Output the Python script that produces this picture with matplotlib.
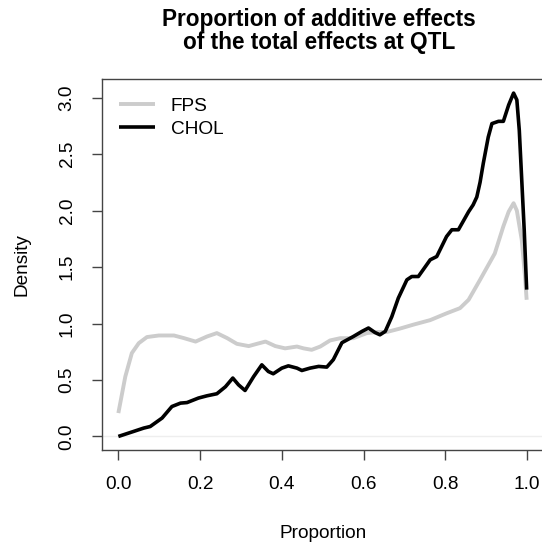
import numpy as np
import matplotlib
matplotlib.use("Agg")
import matplotlib.pyplot as plt

plt.rcParams['font.family'] = ['Liberation Sans', 'DejaVu Sans']

# density curves (x = proportion, y = density)
fps_x = [0.0, 0.017, 0.033, 0.05, 0.07, 0.099, 0.136, 0.16, 0.189, 0.217,
         0.241, 0.266, 0.29, 0.319, 0.339, 0.36, 0.384, 0.408, 0.437, 0.453,
         0.473, 0.494, 0.518, 0.543, 0.575, 0.608, 0.633, 0.657, 0.689, 0.722,
         0.763, 0.803, 0.836, 0.857, 0.885, 0.921, 0.942, 0.955, 0.967, 0.975,
         0.987, 0.995, 0.999]
fps_y = [0.207, 0.53, 0.738, 0.826, 0.88, 0.894, 0.894, 0.871, 0.84, 0.885,
         0.915, 0.871, 0.82, 0.80, 0.82, 0.84, 0.80, 0.78, 0.796, 0.78,
         0.767, 0.796, 0.85, 0.87, 0.87, 0.915, 0.925, 0.925, 0.955, 0.99,
         1.03, 1.09, 1.136, 1.21, 1.387, 1.62, 1.86, 1.99, 2.065, 2.0,
         1.74, 1.416, 1.21]

chol_x = [0.0, 0.037, 0.062, 0.078, 0.107, 0.131, 0.152, 0.168, 0.196, 0.217,
          0.241, 0.262, 0.28, 0.294, 0.31, 0.331, 0.351, 0.367, 0.379, 0.40,
          0.416, 0.437, 0.449, 0.469, 0.49, 0.51, 0.526, 0.547, 0.575, 0.596,
          0.612, 0.628, 0.64, 0.653, 0.669, 0.685, 0.706, 0.718, 0.734, 0.763,
          0.779, 0.803, 0.816, 0.832, 0.857, 0.868, 0.877, 0.885, 0.893, 0.905,
          0.914, 0.93, 0.942, 0.955, 0.967, 0.975, 0.981, 0.987, 0.993, 0.999]
chol_y = [0.0, 0.044, 0.074, 0.088, 0.163, 0.265, 0.295, 0.30, 0.34, 0.36,
          0.378, 0.44, 0.517, 0.457, 0.407, 0.53, 0.634, 0.575, 0.555, 0.605,
          0.625, 0.605, 0.584, 0.605, 0.62, 0.614, 0.68, 0.83, 0.885, 0.93,
          0.96, 0.92, 0.90, 0.93, 1.06, 1.225, 1.387, 1.416, 1.416, 1.564,
          1.593, 1.77, 1.83, 1.83, 1.99, 2.05, 2.12, 2.25, 2.42, 2.65,
          2.77, 2.79, 2.79, 2.935, 3.04, 2.98, 2.71, 2.27, 1.83, 1.30]

legend_labels = ['FPS', 'CHOL']
x_ticks = [0.0, 0.2, 0.4, 0.6, 0.8, 1.0]
y_ticks = [0.0, 0.5, 1.0, 1.5, 2.0, 2.5, 3.0]

fig = plt.figure(figsize=(5.42, 5.44), dpi=100)
ax = fig.add_axes([0.1882, 0.1728, 0.8144, 0.682])

ax.axhline(0, color='#eeeeee', lw=1, zorder=1)
ax.plot(fps_x, fps_y, color='#cccccc', lw=2.8, label=legend_labels[0],
        solid_capstyle='butt', solid_joinstyle='round', zorder=2)
ax.plot(chol_x, chol_y, color='black', lw=2.6, label=legend_labels[1],
        solid_capstyle='butt', solid_joinstyle='round', zorder=3)

ax.set_xlim(-0.04, 1.04)
ax.set_ylim(-0.12, 3.165)
ax.set_xticks(x_ticks)
ax.set_xticklabels(['%.1f' % v for v in x_ticks])
ax.set_yticks(y_ticks)
ax.set_yticklabels(['%.1f' % v for v in y_ticks], rotation=90, va='center')

for s in ax.spines.values():
    s.set_color('#444444')
    s.set_linewidth(1.0)
ax.tick_params(direction='out', length=7, width=1.0, color='#444444',
               labelsize=13.7, pad=12)

ax.set_xlabel('Proportion', fontsize=13.7, labelpad=23)
ax.set_ylabel('Density', fontsize=13.7, labelpad=20)

fig.text(0.589, 0.943, 'Proportion of additive effects\nof the total effects at QTL',
         ha='center', va='center', fontsize=16.3, fontweight='bold',
         linespacing=0.95)

ax.legend(loc='upper left', frameon=False, fontsize=13.7, handlelength=1.9,
          handletextpad=0.8, labelspacing=0.3,
          bbox_to_anchor=(0.0, 0.996))

fig.savefig('out.png', dpi=100)
